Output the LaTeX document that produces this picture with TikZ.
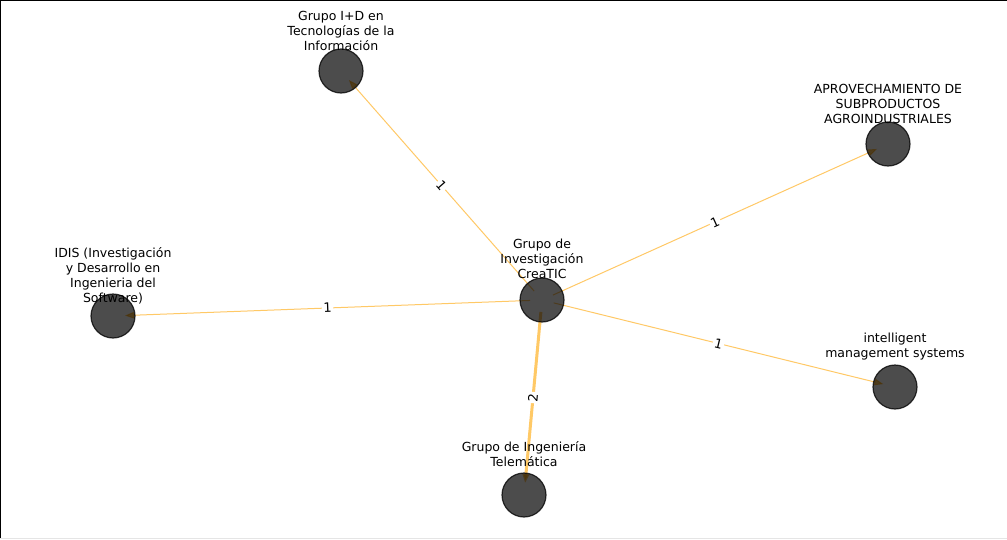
\documentclass[tikz,border=0pt]{standalone}
\usepackage{fontspec}
\setmainfont{DejaVu Sans}
\usetikzlibrary{arrows.meta}
\definecolor{edgeorange}{RGB}{255,165,0}
\tikzset{
  x=1pt, y=-1pt,
  vertex/.style={circle, minimum size=44pt, inner sep=0pt, fill=black, fill opacity=0.7, draw=black, draw opacity=0.75, line width=1.2pt},
  vlabel/.style={align=center, font=\fontsize{12.5}{15}\selectfont, inner sep=0pt},
  link/.style={draw=edgeorange, draw opacity=0.6, line width=1pt, shorten >=12pt, shorten <=12pt,
    -{Triangle[length=9pt,width=6.5pt,fill=edgeorange]}, fill opacity=0.6},
  wlabel/.style={font=\fontsize{13}{15}\selectfont, fill=white, inner sep=1.5pt, sloped, pos=0.5, draw opacity=1, fill opacity=1, text opacity=1}
}
\begin{document}
\begin{tikzpicture}
\useasboundingbox (0,0) rectangle (1007,539);
\fill[white] (0,0) rectangle (1007,539);
\draw[black, line width=1.2pt] (0,539) -- (0,0) -- (1007,0);
\draw[black!10, line width=0.8pt] (0,538.5) -- (1007,538.5);

% node positions
\coordinate (pc) at (542,300);
\coordinate (pa) at (341,71);
\coordinate (pb) at (888,144);
\coordinate (pd) at (113,316);
\coordinate (pe) at (895,387);
\coordinate (pf) at (524,495);

% connectors
\draw[link] (pc) -- (pa);
\draw[link] (pc) -- (pb);
\draw[link] (pc) -- (pd);
\draw[link] (pc) -- (pe);
\draw[link, line width=3pt] (pc) -- (pf);

% vertices
\node[vertex] (c) at (pc) {};
\node[vertex] (a) at (pa) {};
\node[vertex] (b) at (pb) {};
\node[vertex] (d) at (pd) {};
\node[vertex] (e) at (pe) {};
\node[vertex] (f) at (pf) {};

% edge weights
\path (pc) -- (pa) node[wlabel] (wa) {1};
\path (pc) -- (pb) node[wlabel] (wb) {1};
\path (pd) -- (pc) node[wlabel] (wd) {1};
\path (pc) -- (pe) node[wlabel] (we) {1};
\path (pc) -- (pf) node[wlabel] (wf) {2};

% vertex names, centred 40 units above each vertex
\node[vlabel] (lc) at ([yshift=41pt]pc) {Grupo de\\Investigación\\CreaTIC};
\node[vlabel] (la) at ([yshift=40pt]pa) {Grupo I+D en\\Tecnologías de la\\Información};
\node[vlabel] (lb) at ([yshift=40pt]pb) {APROVECHAMIENTO DE\\SUBPRODUCTOS\\AGROINDUSTRIALES};
\node[vlabel] (ld) at ([yshift=40.5pt]pd) {IDIS (Investigación\\y Desarrollo en\\Ingenieria del\\Software)};
\node[vlabel] (le) at ([yshift=40.5pt]pe) {intelligent\\management systems};
\node[vlabel] (lf) at ([yshift=40.5pt]pf) {Grupo de Ingeniería\\Telemática};
\end{tikzpicture}
\end{document}
